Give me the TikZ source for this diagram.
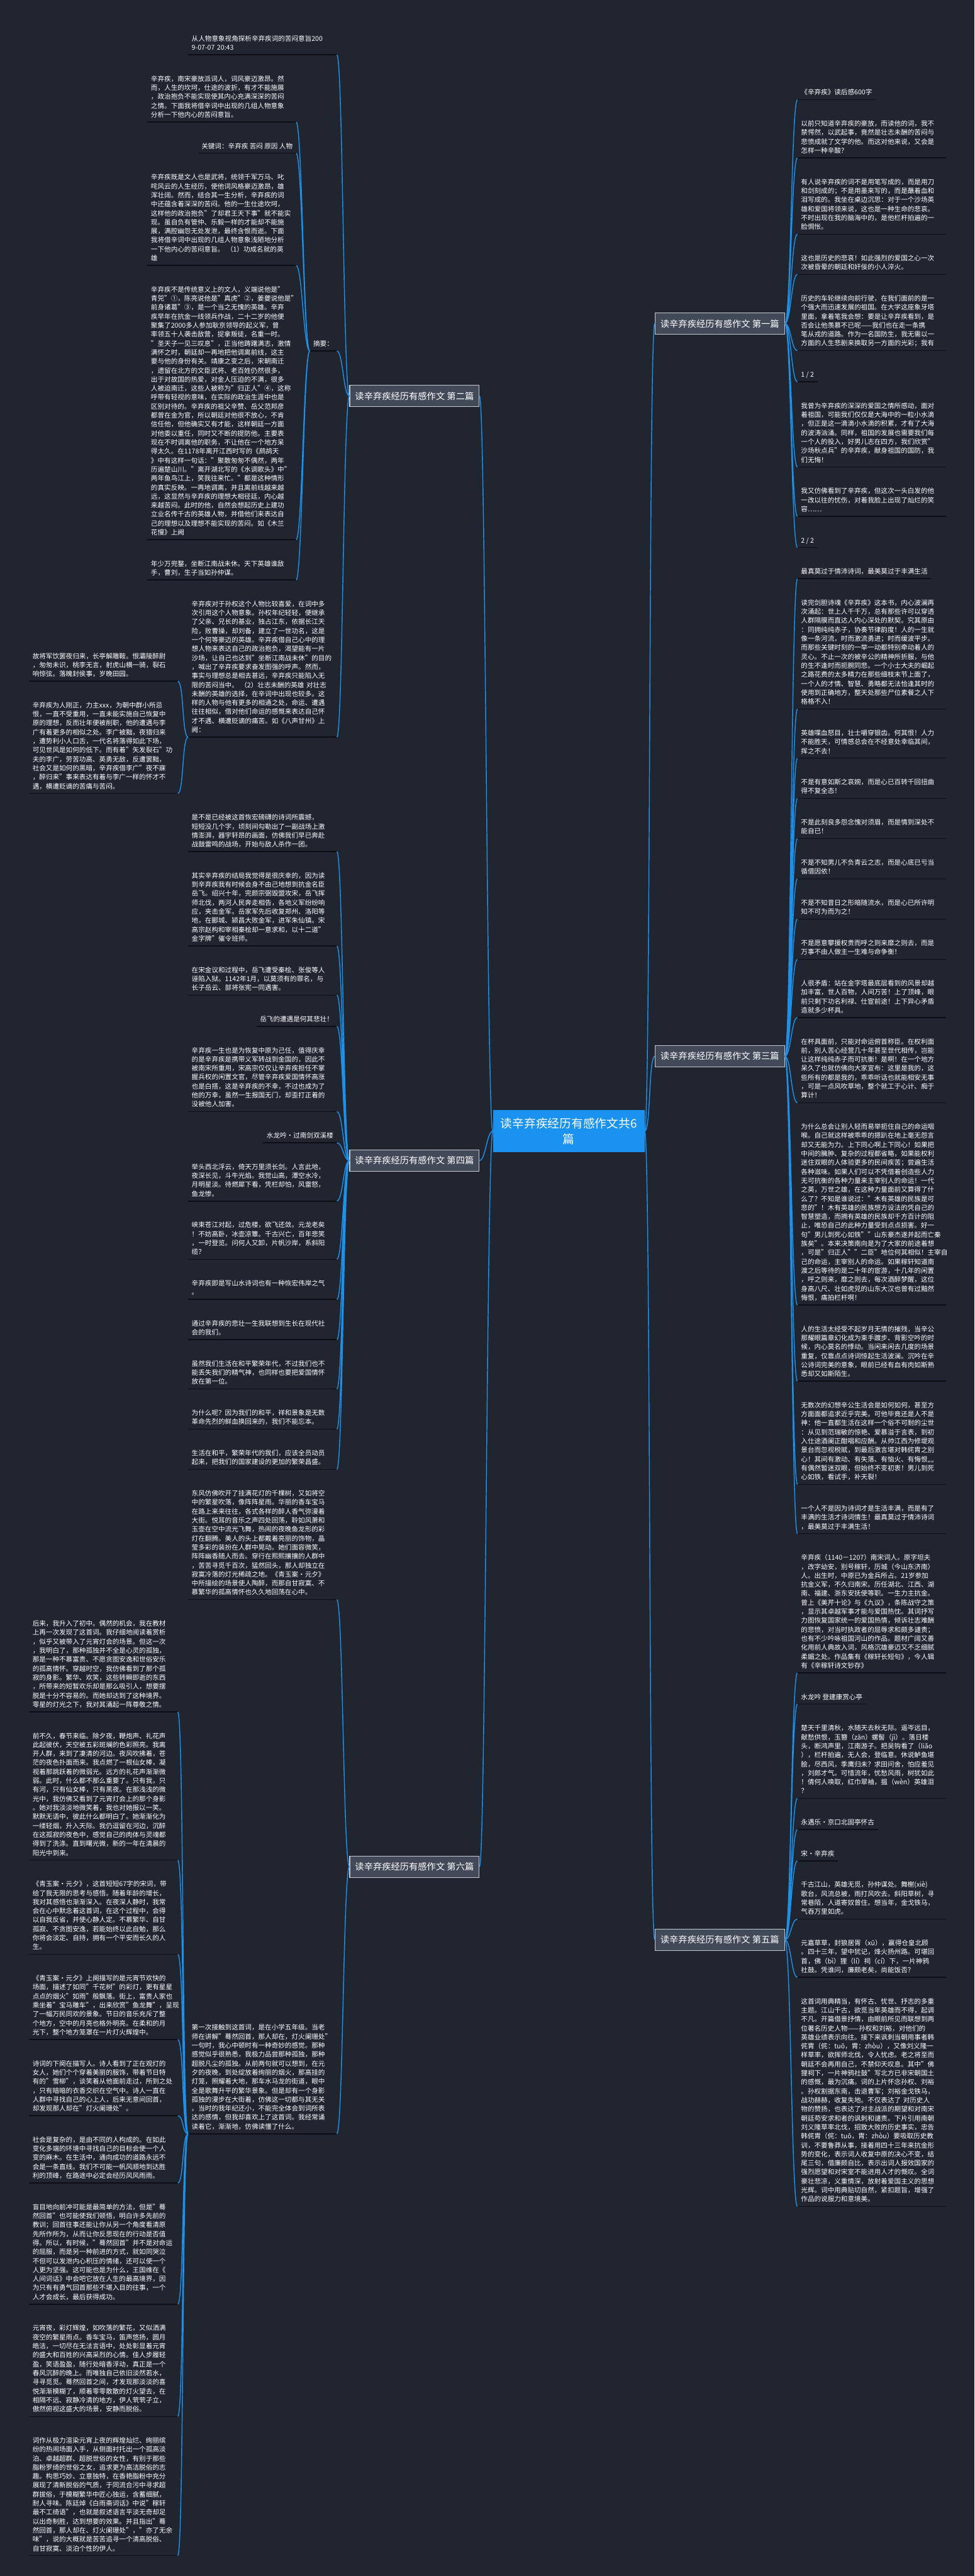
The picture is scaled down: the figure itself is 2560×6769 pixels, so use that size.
\documentclass[tikz,border=0pt]{standalone}
\usepackage{fontspec}
\setmainfont{Noto Sans CJK SC}
\usepackage{tikz}
\usetikzlibrary{calc, positioning}
\definecolor{bgcolor}{RGB}{33,37,48}
\definecolor{linkblue}{RGB}{30,144,232}
\definecolor{rootblue}{RGB}{26,146,240}
\definecolor{branchfill}{RGB}{66,74,90}
\definecolor{branchline}{RGB}{196,200,208}
\definecolor{ulinecolor}{RGB}{12,14,19}
\newcommand{\leaffont}{\fontsize{8.75pt}{11.825pt}\selectfont}
\newcommand{\branchfont}{\fontsize{11.8pt}{14pt}\selectfont}
\newcommand{\rootfont}{\fontsize{15.5pt}{20.5pt}\selectfont}
\tikzstyle{uline} = [draw=ulinecolor, line width=1.3pt]
\tikzstyle{leaf} = [text width=186pt, align=left, inner xsep=4.5pt, inner ysep=2.5pt, text=white, font=\leaffont, execute at begin node=\strut, execute at end node=\strut, append after command={(\tikzlastnode.south west) edge[uline] (\tikzlastnode.south east)}]
\tikzstyle{tag} = [inner xsep=4.5pt, inner ysep=2.5pt, text=white, font=\leaffont, execute at begin node=\strut, execute at end node=\strut, append after command={(\tikzlastnode.south west) edge[uline] (\tikzlastnode.south east)}]
\tikzstyle{branch} = [rectangle, draw=branchline, line width=0.9pt, fill=branchfill, text=white, font=\branchfont, minimum width=170pt, minimum height=28pt, inner xsep=6pt]
\tikzstyle{root} = [rectangle, fill=rootblue, text=white, font=\rootfont, align=center, minimum width=199pt, minimum height=55.5pt]
\tikzstyle{link} = [draw=linkblue, line width=1.2pt]
\tikzstyle{rcurve} = [to path={.. controls ($(\tikztostart)+(16,0)$) and ($(\tikztotarget)+(-16,0)$) .. (\tikztotarget)}]
\tikzstyle{lcurve} = [to path={.. controls ($(\tikztostart)+(-16,0)$) and ($(\tikztotarget)+(16,0)$) .. (\tikztotarget)}]

\begin{document}
\begin{tikzpicture}[x=0.5pt, y=0.5pt, node distance=23.8pt]

		\fill[bgcolor] (0,0) rectangle (2560,-6769);
		\useasboundingbox (0,0) rectangle (2560,-6769);

		\node (TwoTitle) [leaf, anchor=south east] at (885,-144) {从人物意象视角探析辛弃疾词的苦闷意旨200\\9-07-07 20:43};
		\node (TwoA) [leaf, below=of TwoTitle.south east, anchor=north east, xshift=-53.5pt] {辛弃疾，南宋豪放派词人，词风豪迈激昂。然\\而，人生的坎坷，仕途的波折，有才不能施展\\，政治抱负不能实现使其内心充满深深的苦闷\\之情。下面我将借辛词中出现的几组人物意象\\分析一下他内心的苦闷意旨。};
		\node (TwoB) [tag, below=of TwoA.south east, anchor=north east] {关键词：辛弃疾 苦闷 原因 人物};
		\node (TwoC) [leaf, below=of TwoB.south east, anchor=north east] {辛弃疾既是文人也是武将，统领千军万马、叱\\咤风云的人生经历，使他词风格豪迈激昂，雄\\浑壮阔。然而，结合其一生分析，辛弃疾的词\\中还蕴含着深深的苦闷。他的一生仕途坎坷，\\这样他的政治抱负"了却君王天下事"就不能实\\现。虽自负有管仲、乐毅一样的才能却不能施\\展，满腔幽怨无处发泄，最终含恨而逝。下面\\我将借辛词中出现的几组人物意象浅陋地分析\\一下他内心的苦闷意旨。 （1）功成名就的英\\雄};
		\node (TwoD) [leaf, below=of TwoC.south east, anchor=north east] {辛弃疾不是传统意义上的文人，义端说他是"\\青兕"①，陈亮说他是"真虎"②，姜夔说他是"\\前身诸葛"③，是一个当之无愧的英雄。辛弃\\疾早年在抗金一线领兵作战，二十二岁的他便\\聚集了2000多人参加耿京领导的起义军，曾\\率领五十人袭击敌营，捉拿叛徒，名重一时。\\"圣天子一见三叹息"，正当他踌躇满志，激情\\满怀之时，朝廷却一再地把他调离前线，这主\\要与他的身份有关。靖康之变之后，宋朝南迁\\，遗留在北方的文臣武将、老百姓仍然很多，\\出于对故国的热爱，对金人压迫的不满，很多\\人被迫南迁，这些人被称为"归正人"④，这称\\呼带有轻视的意味，在实际的政治生涯中也是\\区别对待的。辛弃疾的祖父辛赞、岳父范邦彦\\都曾在金为官，所以朝廷对他很不放心，不肯\\信任他，但他确实又有才能，这样朝廷一方面\\对他委以重任，同时又不断的提防他。主要表\\现在不时调离他的职务，不让他在一个地方呆\\得太久。在1178年离开江西时写的《鹧鸪天\\》中有这样一句话："聚散匆匆不偶然，两年\\历遍楚山川。"离开湖北写的《水调歌头》中"\\两年鱼鸟江上，笑我往来忙。"都是这种情形\\的真实反映。一再地调离，并且离前线越来越\\远，这显然与辛弃疾的理想大相径廷，内心越\\来越苦闷。此时的他，自然会想起历史上建功\\立业名传千古的英雄人物，并借他们来表达自\\己的理想以及理想不能实现的苦闷。如《木兰\\花慢》上阙};
		\node (TwoE) [leaf, below=of TwoD.south east, anchor=north east] {年少万兜鍪，坐断江南战未休。天下英雄谁敌\\手，曹刘，生子当如孙仲谋。};
		\node (TwoF) [leaf, below=of TwoE.south east, anchor=north east, xshift=53.5pt] {辛弃疾对于孙权这个人物比较喜爱，在词中多\\次引用这个人物意象。孙权年纪轻轻，便继承\\了父亲、兄长的基业，独占江东，依据长江天\\险，败曹操，却刘备，建立了一世功名，这是\\一个何等豪迈的英雄。辛弃疾借自己心中的理\\想人物来表达自己的政治抱负，渴望能有一片\\沙场，让自己也达到"坐断江南战未休"的目的\\，喊出了辛弃疾要求奋发图强的呼声。然而，\\事实与理想总是相去甚远，辛弃疾只能陷入无\\限的苦闷当中。 （2）壮志未酬的英雄 对壮志\\未酬的英雄的选择，在辛词中出现也较多。这\\样的人物与他有更多的相通之处，命运、遭遇\\往往相似，借对他们命运的感慨来表达自己怀\\才不遇、横遭贬谪的痛苦。如《八声甘州》上\\阙：};
		\node (TwoFA) [leaf, anchor=south east] at ($(TwoF.south east)+(-418,147)$) {故将军饮罢夜归来，长亭解雕鞍。恨灞陵醉尉\\，匆匆未识，桃李无言，射虎山横一骑，裂石\\响惊弦。落魄封侯事，岁晚田园。};
		\node (TwoFB) [leaf, below=of TwoFA.south east, anchor=north east] {辛弃疾为人刚正，力主xxx，为朝中群小所忌\\恨，一直不受重用，一直未能实施自己恢复中\\原的理想，反而壮年便被削职，他的遭遇与李\\广有着更多的相似之处。李广被黜，夜猎归来\\，遭势利小人口舌，一代名将落得如此下场，\\可见世风是如何的低下。而有着"矢发裂石"功\\夫的李广，劳苦功高、英勇无敌，反遭罢黜，\\社会又是如何的黑暗，辛弃疾借李广"夜不寐\\，醉归来"事来表达有着与李广一样的怀才不\\遇，横遭贬谪的苦痛与苦闷。};
		\node (Abstract) [tag, anchor=south east] at ($(TwoA.south east)!0.5!(TwoE.south east)+(107,0)$) {摘要：};

		\node (FourA) [leaf, below=of TwoFB.south east, anchor=north east, xshift=209pt] {是不是已经被这首恢宏磅礴的诗词所震撼，\\短短没几个字，顷刻间勾勒出了一副战场上激\\情澎湃，器宇轩昂的画面，仿佛我们早已奔赴\\战鼓雷鸣的战场，开始与敌人杀作一团。};
		\node (FourB) [leaf, below=of FourA.south east, anchor=north east] {其实辛弃疾的结局我觉得是很庆幸的，因为读\\到辛弃疾我有时候会身不由己地想到抗金名臣\\岳飞。绍兴十年，完颜宗弼毁盟攻宋，岳飞挥\\师北伐，两河人民奔走相告，各地义军纷纷响\\应，夹击金军。岳家军先后收复郑州、洛阳等\\地，在郾城、颍昌大败金军，进军朱仙镇。宋\\高宗赵构和宰相秦桧却一意求和，以十二道"\\金字牌"催令班师。};
		\node (FourC) [leaf, below=of FourB.south east, anchor=north east] {在宋金议和过程中，岳飞遭受秦桧、张俊等人\\诬陷入狱。1142年1月，以莫须有的罪名，与\\长子岳云、部将张宪一同遇害。};
		\node (FourD) [tag, below=of FourC.south east, anchor=north east] {岳飞的遭遇是何其悲壮！};
		\node (FourE) [leaf, below=of FourD.south east, anchor=north east] {辛弃疾一生也是为恢复中原为己任，值得庆幸\\的是辛弃疾是携带义军转战到金国的，因此不\\被南宋所重用，宋高宗仅仅让辛弃疾担任不掌\\握兵权的闲置文官，尽管辛弃疾爱国情怀高涨\\也是白搭，这是辛弃疾的不幸，不过也成为了\\他的万幸，虽然一生报国无门，却歪打正着的\\没被他人加害。};
		\node (FourF) [tag, below=of FourE.south east, anchor=north east] {水龙吟•过南剑双溪楼};
		\node (FourG) [leaf, below=of FourF.south east, anchor=north east] {举头西北浮云，倚天万里须长剑。人言此地，\\夜深长见，斗牛光焰。我觉山高，潭空水冷，\\月明星淡。待燃犀下看，凭栏却怕，风雷怒，\\鱼龙惨。};
		\node (FourH) [leaf, below=of FourG.south east, anchor=north east] {峡束苍江对起，过危楼，欲飞还敛。元龙老矣\\！不妨高卧，冰壶凉簟。千古兴亡，百年悲笑\\，一时登览。问何人又卸，片帆沙岸，系斜阳\\缆？};
		\node (FourI) [leaf, below=of FourH.south east, anchor=north east] {辛弃疾即是写山水诗词也有一种恢宏伟岸之气\\。};
		\node (FourJ) [leaf, below=of FourI.south east, anchor=north east] {通过辛弃疾的悲壮一生我联想到生长在现代社\\会的我们。};
		\node (FourK) [leaf, below=of FourJ.south east, anchor=north east] {虽然我们生活在和平繁荣年代，不过我们也不\\能丢失我们的精气神，也同样也要把爱国情怀\\放在第一位。};
		\node (FourL) [leaf, below=of FourK.south east, anchor=north east] {为什么呢？因为我们的和平，祥和景象是无数\\革命先烈的鲜血换回来的，我们不能忘本。};
		\node (FourM) [leaf, below=of FourL.south east, anchor=north east] {生活在和平，繁荣年代的我们，应该全员动员\\起来，把我们的国家建设的更加的繁荣昌盛。};

		\node (SixA) [leaf, below=of FourM.south east, anchor=north east] {东风仿佛吹开了挂满花灯的千棵树，又如将空\\中的繁星吹落，像阵阵星雨。华丽的香车宝马\\在路上来来往往，各式各样的醉人香气弥漫着\\大街。悦耳的音乐之声四处回荡，聆如风萧和\\玉壶在空中流光飞舞，热闹的夜晚鱼龙形的彩\\灯在翻腾。美人的头上都戴着亮丽的饰物，晶\\莹多彩的装扮在人群中晃动。她们面容微笑，\\阵阵幽香随人而去。穿行在熙熙攘攘的人群中\\，苦苦寻觅千百次，猛然回头，那人却独立在\\寂寞冷落的灯光稀疏之地。《青玉案·元夕》\\中所描绘的场景使人陶醉，而那自甘寂寞、不\\慕繁华的孤高情怀也久久地回荡在心中。};
		\node (SixBA) [leaf, below=of SixA.south east, anchor=north east, xshift=-209pt] {后来，我升入了初中。偶然的机会，我在教材\\上再一次发现了这首词。我仔细地阅读着赏析\\，似乎又被带入了元宵灯会的场景。但这一次\\，我明白了，那种孤独并不全是心灵的孤独，\\那是一种不慕富贵、不愿贪图安逸和世俗安乐\\的孤高情怀。穿越时空，我仿佛看到了那个孤\\寂的身影。繁华、欢笑，这些转瞬即逝的东西\\，所带来的短暂欢乐却是那么吸引人，想要摆\\脱是十分不容易的。而她却达到了这种境界。\\零星的灯光之下，我对其涌起一阵尊敬之情。};
		\node (SixBB) [leaf, below=of SixBA.south east, anchor=north east] {前不久，春节来临。除夕夜，鞭炮声、礼花声\\此起彼伏，天空被五彩斑斓的色彩照亮。我离\\开人群，来到了凄清的河边。夜风吹拂着，苍\\茫的夜色扑面而来。我点燃了一根仙女棒，凝\\视着那跳跃着的微弱光。远方的礼花声渐渐微\\弱。此时，什么都不那么重要了。只有我，只\\有河，只有仙女棒，只有黑夜。在那浅浅的微\\光中，我仿佛又看到了元宵灯会上的那个身影\\。她对我淡淡地微笑着，我也对她报以一笑。\\默默无语中，彼此什么都明白了。她渐渐化为\\一缕轻烟，升入天际。我仍逗留在河边，沉醉\\在这孤寂的夜色中，感觉自己的肉体与灵魂都\\得到了洗涤。直到曙光微，新的一年在清晨的\\阳光中到来。};
		\node (SixBC) [leaf, below=of SixBB.south east, anchor=north east] {《青玉案·元夕》，这首短短67字的宋词，带\\给了我无限的思考与感悟。随着年龄的增长，\\我对其感悟也渐渐深入。在夜深人静时，我常\\会在心中默念着这首词，在这个过程中，会得\\以自我反省，并使心静人定。不慕繁华、自甘\\孤寂、不贪图安逸，若能始终以此自勉，那么\\你将会淡定、自持，拥有一个平安而长久的人\\生。};
		\node (SixBD) [leaf, below=of SixBC.south east, anchor=north east] {《青玉案·元夕》上阕描写的是元宵节欢快的\\场面，描述了如同"千花树"的彩灯，更有星星\\点点的烟火"如雨"般飘落。街上，富贵人家也\\乘坐着"宝马雕车"，出来欣赏"鱼龙舞"，呈现\\了一幅万民同欢的景象。节日的音乐充斥了整\\个地方，空中的月亮也格外明亮。在柔和的月\\光下，整个地方笼罩在一片灯火辉煌中。};
		\node (SixBE) [leaf, below=of SixBD.south east, anchor=north east] {诗词的下阕在描写人。诗人看到了正在观灯的\\女人，她们个个穿着美丽的服饰，带着节日特\\有的"雪柳"，谈笑着从他面前走过，所到之处\\，只有暗暗的衣香交织在空气中。诗人一直在\\人群中寻找自己的心上人，后来无意间回首，\\却发现那人却在"灯火阑珊处"。};
		\node (SixBF) [leaf, below=of SixBE.south east, anchor=north east] {社会是复杂的，是由不同的人构成的。在如此\\变化多端的环境中寻找自己的目标会使一个人\\变的麻木。在生活中，通向成功的道路永远不\\会是一条直线。我们不可能一帆风顺地到达胜\\利的顶峰，在路途中必定会经历风风雨雨。};
		\node (SixBG) [leaf, below=of SixBF.south east, anchor=north east] {盲目地向前冲可能是最简单的方法，但是"蓦\\然回首"也可能使我们顿悟，明白许多先前的\\教训；回首往事还能让你从另一个角度看清原\\先所作所为，从而让你反思现在的行动是否值\\得。所以，有时候，"蓦然回首"并不是对命运\\的屈服，而是另一种前进的方式，就如同哭泣\\不但可以发泄内心积压的情绪，还可以使一个\\人更为坚强。这可能也是为什么，王国维在《\\人间词话》中会吧它放在人生的最高境界，因\\为只有有勇气回首那些不堪入目的往事，一个\\人才会成长，最后获得成功。};
		\node (SixBH) [leaf, below=of SixBG.south east, anchor=north east] {元宵夜，彩灯辉煌，如吹落的繁花，又似洒满\\夜空的繁星雨点。香车宝马，笛声悠扬，圆月\\皓洁，一切尽在无法言语中，处处彰显着元宵\\的盛大和百姓的兴高采烈的心情。佳人步履轻\\盈，笑语盈盈，随行处暗香浮动，真正是一个\\春风沉醉的晚上。而唯独自己依旧淡然若水，\\寻寻觅觅。蓦然回首之间，才发现那淡淡的喜\\悦渐渐模糊了，顺着零零散散的灯火望去，在\\相隔不远、寂静冷清的地方，伊人茕茕孑立，\\傲然俯视这盛大的场景，安静而脱俗。};
		\node (SixBI) [leaf, below=of SixBH.south east, anchor=north east] {词作从极力渲染元宵上夜的辉煌灿烂、绚丽缤\\纷的热闹场面入手，从侧面衬托出一个孤高淡\\泊、卓越超群、超脱世俗的女性，有别于那些\\脂粉罗绮的世俗之女，追求更为高洁脱俗的志\\趣。构思巧妙、立意独特，在香艳脂粉中充分\\展现了清新脱俗的气质，于同流合污中寻求超\\群拔俗，于模糊繁华中匠心独运，含蓄细腻，\\耐人寻味。陈廷焯《白雨斋词话》中说"稼轩\\最不工绮语"，也就是叙述语言平淡无奇却足\\以出奇制胜，达到想要的效果。并且指出"蓦\\然回首，那人却在、灯火阑珊处"，"亦了无余\\味"，说的大概就是苦苦追寻一个清高脱俗、\\自甘寂寞、淡泊个性的伊人。};
		\node (SixB) [leaf, anchor=south east] at ($(SixBA.south east)!0.5!(SixBI.south east)+(418,0)$) {第一次接触到这首词，是在小学五年级。当老\\师在讲解"蓦然回首，那人却在，灯火阑珊处"\\一句时，我心中顿时有一种奇妙的感觉。那种\\感觉似乎很熟悉，我极力品尝那种孤独，那种\\超脱凡尘的孤独。从前两句就可以想到，在元\\夕的夜晚，到处绽放着绚丽的烟火，那高挂的\\灯笼，照耀着大地，那车水马龙的街道，眼中\\全是歌舞升平的繁华景象。但是却有一个身影\\孤独的漫步在大街着，仿佛这一切都与其无关\\。当时的我年纪还小，不能完全体会到词所表\\达的感情，但我却喜欢上了这首词。我经常诵\\读着它，渐渐地，仿佛读懂了什么。};

		\node (PartTwo) [branch, anchor=west] at ($(TwoTitle.south east)!0.5!(TwoF.south east)+(33,0)$) {读辛弃疾经历有感作文 第二篇};
		\node (PartFour) [branch, anchor=west] at ($(FourA.south east)!0.5!(FourM.south east)+(33,0)$) {读辛弃疾经历有感作文 第四篇};
		\node (PartSix) [branch, anchor=west] at ($(SixA.south east)!0.5!(SixB.south east)+(33,0)$) {读辛弃疾经历有感作文 第六篇};
		\node (Root) [root, anchor=west] at ($(PartTwo.east)!0.5!(PartSix.east)+(35,0)$) {读辛弃疾经历有感作文共6\\篇};

		\node (OneA) [tag, anchor=south west] at (2095,-262) {《辛弃疾》读后感600字};
		\node (OneB) [leaf, below=of OneA.south west, anchor=north west] {以前只知道辛弃疾的豪放，而读他的词，我不\\禁愕然，以武起事，竟然是壮志未酬的苦闷与\\悲愤成就了文学的他。而这对他来说，又会是\\怎样一种辛酸？};
		\node (OneC) [leaf, below=of OneB.south west, anchor=north west] {有人说辛弃疾的词不是用笔写成的，而是用刀\\和剑刻成的；不是用墨来写的，而是蘸着血和\\泪写成的。我坐在桌边沉思：对于一个沙场英\\雄和爱国将领来说，这也是一种生命的悲哀。\\不时出现在我的脑海中的，是他栏杆拍遍的一\\脸惆怅。};
		\node (OneD) [leaf, below=of OneC.south west, anchor=north west] {这也是历史的悲哀！如此强烈的爱国之心一次\\次被昏晕的朝廷和奸佞的小人淬火。};
		\node (OneE) [leaf, below=of OneD.south west, anchor=north west] {历史的车轮继续向前行驶，在我们面前的是一\\个强大而迅速发展的祖国。在大学这座象牙塔\\里面，拿着笔我会想：要是让辛弃疾看到，是\\否会让他羡慕不已呢——我们也在走一条携\\笔从戎的道路。作为一名国防生，我无需以一\\方面的人生悲剧来换取另一方面的光彩；我有};
		\node (OneF) [tag, below=of OneE.south west, anchor=north west] {1 / 2};
		\node (OneG) [leaf, below=of OneF.south west, anchor=north west] {我曾为辛弃疾的深深的爱国之情所感动，面对\\着祖国，可能我们仅仅是大海中的一粒小水滴\\，但正是这一滴滴小水滴的积累，才有了大海\\的波涛汹涌。同样，祖国的发展也需要我们每\\一个人的投入，好男儿志在四方，我们欣赏"\\沙场秋点兵"的辛弃疾，献身祖国的国防，我\\们无悔！};
		\node (OneH) [leaf, below=of OneG.south west, anchor=north west] {我又仿佛看到了辛弃疾，但这次一头白发的他\\一改以往的忧伤，对着我脸上出现了灿烂的笑\\容……};
		\node (OneI) [tag, below=of OneH.south west, anchor=north west] {2 / 2};

		\node (ThreeA) [tag, below=of OneI.south west, anchor=north west] {最真莫过于情沛诗词，最美莫过于丰满生活};
		\node (ThreeB) [leaf, below=of ThreeA.south west, anchor=north west] {读完剑胆诗魂《辛弃疾》这本书，内心波澜再\\次涌起：世上人千千万，总有那些许可以穿透\\人群隔膜而直达人内心深处的默契。究其原由\\：同拥纯纯赤子，协奏节律韵度！人的一生就\\像一条河流，时而激流勇进；时而缓波平步。\\而那些关键时刻的一举一动都特别牵动着人的\\灵心。不止一次的被辛公的精神所折服，与他\\的生不逢时而扼腕同悲。一个小士大夫的崛起\\之路花费的太多精力在那些细枝末节上面了，\\一个人的才情、智慧、勇略都无法恰逢其时的\\使用到正确地方，整天处那些尸位素餐之人下\\格格不入！};
		\node (ThreeC) [leaf, below=of ThreeB.south west, anchor=north west] {英雄喋血怒目，壮士嚼穿银齿。何其恨！人力\\不能胜天，可情感总会在不经意处幸临其间，\\挥之不去！};
		\node (ThreeD) [leaf, below=of ThreeC.south west, anchor=north west] {不是有意如斯之哀婉，而是心已百转千回扭曲\\得不复全态！};
		\node (ThreeE) [leaf, below=of ThreeD.south west, anchor=north west] {不是此刻良多怨念愧对须眉，而是情到深处不\\能自已！};
		\node (ThreeF) [leaf, below=of ThreeE.south west, anchor=north west] {不是不知男儿不负青云之志，而是心底已亏当\\循借因依！};
		\node (ThreeG) [leaf, below=of ThreeF.south west, anchor=north west] {不是不知昔日之形暗随流水，而是心已所许明\\知不可为而为之！};
		\node (ThreeH) [leaf, below=of ThreeG.south west, anchor=north west] {不是愿意攀援权贵而呼之则来靡之则去，而是\\万事不由人做主一生难与命争衡！};
		\node (ThreeI) [leaf, below=of ThreeH.south west, anchor=north west] {人很矛盾：站在金字塔最底层看到的风景却越\\加丰富，世人百物，人间万苦！上了顶峰，眼\\前只剩下功名利禄、仕宦前途！上下异心矛盾\\造就多少杯具。};
		\node (ThreeJ) [leaf, below=of ThreeI.south west, anchor=north west] {在杯具面前，只能对命运俯首称臣。在权利面\\前，别人苦心经营几十年甚至世代相传，岂能\\让这样纯纯赤子而可抗衡！是啊！在一个地方\\呆久了也就仿佛向大家宣布：这里是我的，这\\些所有的都是我的，乖乖听话也就能相安无事\\，可是一点风吹草地，整个就工于心计、痴于\\算计！};
		\node (ThreeK) [leaf, below=of ThreeJ.south west, anchor=north west] {为什么总会让别人轻而易举扼住自己的命运咽\\喉。自己就这样被乖乖的摁趴在地上毫无怨言\\却又无能为力。上下同心啊上下同心！如果把\\中间的臃肿、复杂的过程都省略，如果能权利\\迷住双眼的人体验更多的民间疾苦；尝遍生活\\各种滋味。如果人们可以不凭借着创造些人力\\无可抗衡的各种力量来主宰别人的命运！一代\\之英，万世之雄，在这种力量面前又算得了什\\么了？不知是谁说过："木有英雄的民族是可\\悲的"！木有英雄的民族想方设法的凭自己的\\智慧塑造，而拥有英雄的民族却千方百计的阻\\止，唯恐自己的此种力量受到点点损害。好一\\句"男儿到死心如铁""山东豪杰遂并起而亡秦\\族矣"。本来决策南向是为了大家的前途着想\\，可是"归正人""二臣"地位何其相似！主宰自\\己的命运，主宰别人的命运。如果稼轩知道南\\渡之后等待的是二十年的宦游，十几年的闲置\\，呼之则来，靡之则去，每次酒醉梦醒，这位\\身高八尺、壮如虎兕的山东大汉也曾有过黯然\\悔恨，痛拍栏杆啊！};
		\node (ThreeL) [leaf, below=of ThreeK.south west, anchor=north west] {人的生活太经受不起岁月无情的摧残，当辛公\\那耀眼篇章幻化成为束手踱步、背影空吟的时\\候，内心莫名的悸动。当闲来闲去几度的场景\\重复，仅靠点点诗词惊起生活波澜。沉吟在辛\\公诗词完美的意象，眼前已经有血有肉如斯熟\\悉却又如斯陌生。};
		\node (ThreeM) [leaf, below=of ThreeL.south west, anchor=north west] {无数次的幻想辛公生活会是如何如何，甚至方\\方面面都追求近乎完美。可他毕竟还是人不是\\神：他一直都生活在这样一个俗不可耐的尘世\\：从见到范瑞敏的惊艳、爱慕溢于言表，到初\\入仕途酒阑正酣唱和应酬。从帅江西为修堤观\\景台而忽视税赋，到最后激言堪对韩侂胄之别\\心！其间有激动、有失落、有恼火、有悔恨,,,,\\有偶然暂迷双眼，但始终不变初衷！男儿到死\\心如铁，看试手，补天裂！};
		\node (ThreeN) [leaf, below=of ThreeM.south west, anchor=north west] {一个人不是因为诗词才是生活丰满，而是有了\\丰满的生活才诗词情生！最真莫过于情沛诗词\\，最美莫过于丰满生活！};

		\node (FiveA) [leaf, below=of ThreeN.south west, anchor=north west] {辛弃疾（1140－1207）南宋词人。原字坦夫\\，改字幼安，别号稼轩，历城（今山东济南）\\人。出生时，中原已为金兵所占。21岁参加\\抗金义军，不久归南宋。历任湖北、江西、湖\\南、福建、浙东安抚使等职。一生力主抗金。\\曾上《美芹十论》与《九议》，条陈战守之策\\，显示其卓越军事才能与爱国热忱。其词抒写\\力图恢复国家统一的爱国热情，倾诉壮志难酬\\的悲愤，对当时执政者的屈辱求和颇多谴责；\\也有不少吟咏祖国河山的作品。题材广阔又善\\化用前人典故入词，风格沉雄豪迈又不乏细腻\\柔媚之处。作品集有《稼轩长短句》，今人辑\\有《辛稼轩诗文钞存》};
		\node (FiveB) [tag, below=of FiveA.south west, anchor=north west] {水龙吟 登建康赏心亭};
		\node (FiveC) [leaf, below=of FiveB.south west, anchor=north west] {楚天千里清秋，水随天去秋无际。遥岑远目，\\献愁供恨，玉簪（zān）螺髻（jì）。落日楼\\头，断鸿声里，江南游子。把吴钩看了（liǎo\\），栏杆拍遍，无人会，登临意。休说鲈鱼堪\\脍，尽西风，季鹰归未？求田问舍，怕应羞见\\，刘郎才气。可惜流年，忧愁风雨，树犹如此\\！倩何人唤取，红巾翠袖，揾（wèn）英雄泪\\？};
		\node (FiveD) [tag, below=of FiveC.south west, anchor=north west] {永遇乐·京口北固亭怀古};
		\node (FiveE) [tag, below=of FiveD.south west, anchor=north west] {宋·辛弃疾};
		\node (FiveF) [leaf, below=of FiveE.south west, anchor=north west] {千古江山，英雄无觅，孙仲谋处。舞榭(xiè)\\歌台，风流总被，雨打风吹去。斜阳草树，寻\\常巷陌，人道寄奴曾住。想当年，金戈铁马，\\气吞万里如虎。};
		\node (FiveG) [leaf, below=of FiveF.south west, anchor=north west] {元嘉草草，封狼居胥（xū），赢得仓皇北顾\\。四十三年，望中犹记，烽火扬州路。可堪回\\首，佛（bì）狸（lí）祠（cí）下，一片神鸦\\社鼓。凭谁问，廉颇老矣，尚能饭否？};
		\node (FiveH) [leaf, below=of FiveG.south west, anchor=north west] {这首词用典精当，有怀古、忧世、抒志的多重\\主题。江山千古，欲觅当年英雄而不得，起调\\不凡。开篇借景抒情，由眼前所见而联想到两\\位著名历史人物——孙权和刘裕，对他们的\\英雄业绩表示向往。接下来讽刺当朝用事者韩\\侂胄（侂：tuō，胄：zhòu），又像刘义隆一\\样草率，欲挥师北伐，令人忧虑。老之将至而\\朝廷不会再用自己，不禁仰天叹息。其中"佛\\狸祠下，一片神鸦社鼓"写北方已非宋朝国土\\的感慨，最为沉痛。词的上片怀念孙权、刘裕\\。孙权割据东南，击退曹军；刘裕金戈铁马，\\战功赫赫，收复失地。不仅表达了 对历史人\\物的赞扬，也表达了对主战派的期望和对南宋\\朝廷苟安求和者的讽刺和谴责。下片引用南朝\\刘义隆草率北伐，招致大败的历史事实，忠告\\韩侂胄（侂：tuō，胄：zhòu）要吸取历史教\\训，不要鲁莽从事，接着用四十三年来抗金形\\势的变化，表示词人收复中原的决心不变，结\\尾三句，借廉颇自比，表示出词人报效国家的\\强烈愿望和对宋室不能进用人才的慨叹。全词\\豪壮悲凉，义重情深，放射着爱国主义的思想\\光辉。词中用典贴切自然，紧扣题旨，增强了\\作品的说服力和意境美。};

		\node (PartOne) [branch, anchor=east] at ($(OneA.south west)!0.5!(OneI.south west)+(-33,0)$) {读辛弃疾经历有感作文 第一篇};
		\node (PartThree) [branch, anchor=east] at ($(ThreeA.south west)!0.5!(ThreeN.south west)+(-33,0)$) {读辛弃疾经历有感作文 第三篇};
		\node (PartFive) [branch, anchor=east] at ($(FiveA.south west)!0.5!(FiveH.south west)+(-33,0)$) {读辛弃疾经历有感作文 第五篇};

		\draw [link] (Root.west) to[lcurve] (PartTwo.east) (Root.west) to[lcurve] (PartFour.east) (Root.west) to[lcurve] (PartSix.east);
		\draw [link] (Root.east) to[rcurve] (PartOne.west) (Root.east) to[rcurve] (PartThree.west) (Root.east) to[rcurve] (PartFive.west);

		\draw [link] (PartTwo.west) to[lcurve] (TwoTitle.south east) (PartTwo.west) to[lcurve] (Abstract.south east) (PartTwo.west) to[lcurve] (TwoF.south east);
		\draw [link] (Abstract.south west) to[lcurve] (TwoA.south east) (Abstract.south west) to[lcurve] (TwoB.south east) (Abstract.south west) to[lcurve] (TwoC.south east)
		(Abstract.south west) to[lcurve] (TwoD.south east) (Abstract.south west) to[lcurve] (TwoE.south east);
		\draw [link] (TwoF.south west) to[lcurve] (TwoFA.south east) (TwoF.south west) to[lcurve] (TwoFB.south east);

		\draw [link] (PartFour.west) to[lcurve] (FourA.south east) (PartFour.west) to[lcurve] (FourB.south east) (PartFour.west) to[lcurve] (FourC.south east)
		(PartFour.west) to[lcurve] (FourD.south east) (PartFour.west) to[lcurve] (FourE.south east) (PartFour.west) to[lcurve] (FourF.south east)
		(PartFour.west) to[lcurve] (FourG.south east) (PartFour.west) to[lcurve] (FourH.south east) (PartFour.west) to[lcurve] (FourI.south east)
		(PartFour.west) to[lcurve] (FourJ.south east) (PartFour.west) to[lcurve] (FourK.south east) (PartFour.west) to[lcurve] (FourL.south east)
		(PartFour.west) to[lcurve] (FourM.south east);

		\draw [link] (PartSix.west) to[lcurve] (SixA.south east) (PartSix.west) to[lcurve] (SixB.south east);
		\draw [link] (SixB.south west) to[lcurve] (SixBA.south east) (SixB.south west) to[lcurve] (SixBB.south east) (SixB.south west) to[lcurve] (SixBC.south east)
		(SixB.south west) to[lcurve] (SixBD.south east) (SixB.south west) to[lcurve] (SixBE.south east) (SixB.south west) to[lcurve] (SixBF.south east)
		(SixB.south west) to[lcurve] (SixBG.south east) (SixB.south west) to[lcurve] (SixBH.south east) (SixB.south west) to[lcurve] (SixBI.south east);

		\draw [link] (PartOne.east) to[rcurve] (OneA.south west) (PartOne.east) to[rcurve] (OneB.south west) (PartOne.east) to[rcurve] (OneC.south west)
		(PartOne.east) to[rcurve] (OneD.south west) (PartOne.east) to[rcurve] (OneE.south west) (PartOne.east) to[rcurve] (OneF.south west)
		(PartOne.east) to[rcurve] (OneG.south west) (PartOne.east) to[rcurve] (OneH.south west) (PartOne.east) to[rcurve] (OneI.south west);

		\draw [link] (PartThree.east) to[rcurve] (ThreeA.south west) (PartThree.east) to[rcurve] (ThreeB.south west) (PartThree.east) to[rcurve] (ThreeC.south west)
		(PartThree.east) to[rcurve] (ThreeD.south west) (PartThree.east) to[rcurve] (ThreeE.south west) (PartThree.east) to[rcurve] (ThreeF.south west)
		(PartThree.east) to[rcurve] (ThreeG.south west) (PartThree.east) to[rcurve] (ThreeH.south west) (PartThree.east) to[rcurve] (ThreeI.south west)
		(PartThree.east) to[rcurve] (ThreeJ.south west) (PartThree.east) to[rcurve] (ThreeK.south west) (PartThree.east) to[rcurve] (ThreeL.south west)
		(PartThree.east) to[rcurve] (ThreeM.south west) (PartThree.east) to[rcurve] (ThreeN.south west);

		\draw [link] (PartFive.east) to[rcurve] (FiveA.south west) (PartFive.east) to[rcurve] (FiveB.south west) (PartFive.east) to[rcurve] (FiveC.south west)
		(PartFive.east) to[rcurve] (FiveD.south west) (PartFive.east) to[rcurve] (FiveE.south west) (PartFive.east) to[rcurve] (FiveF.south west)
		(PartFive.east) to[rcurve] (FiveG.south west) (PartFive.east) to[rcurve] (FiveH.south west);

\end{tikzpicture}
\end{document}
